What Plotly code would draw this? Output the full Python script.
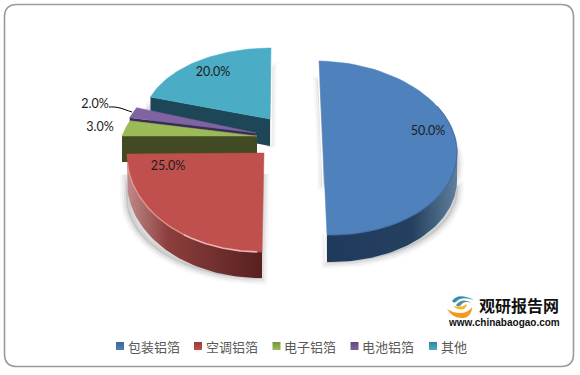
import math
import plotly.graph_objects as go

categories = ["包装铝箔", "空调铝箔", "电子铝箔", "电池铝箔", "其他"]
values = [50.0, 25.0, 3.0, 2.0, 20.0]

# appearance / projection of each exploded slice (pixel-based axes)
APEX = [(323, 148), (264, 153), (257, 136), (256, 133), (270, 119)]
RVEC = [(134, 2), (137, -1), (135, 0), (133, 0), (126, 0)]
UVEC = [(-4, -87), (2, -99), (30, -81), (23, -82), (1, -71)]
DEPTH = [27, 26, 26, 26, 27]
TOP = ["#4f81bd", "#c0504d", "#9bbb59", "#8064a2", "#4bacc6"]
FRONT = ["#1f3a5c", "#5a2423", "#414a23", "#3a2a55", "#1d4656"]
SIDE = [
    [[0, "#203a5e"], [0.65, "#24405f"], [1, "#5f7f9d"]],
    [[0, "#c08a8a"], [0.3, "#8c3f3d"], [1, "#572120"]],
    None, None, None,
]
LABEL_POS = [(428, 132), (168, 167), (100, 128), (95, 105), (213, 73)]
LEG_X = [120, 198, 276.5, 354.5, 433]
LEG_COL = ["#3c6596", "#963c3a", "#76923c", "#5f497a", "#31859c"]
LEG_Y = 346


def pt(i, a, dz=0):
    t = math.radians(a)
    s, c = math.sin(t), math.cos(t)
    return (APEX[i][0] + s * RVEC[i][0] + c * UVEC[i][0],
            APEX[i][1] + s * RVEC[i][1] + c * UVEC[i][1] + dz)


def arc(i, a, b, dz=0, n=60):
    return [pt(i, a + (b - a) * k / n, dz) for k in range(n + 1)]


def poly(pts, **kw):
    xs = [p[0] for p in pts] + [pts[0][0]]
    ys = [p[1] for p in pts] + [pts[0][1]]
    return go.Scatter(x=xs, y=ys, mode="lines", fill="toself", hoverinfo="skip",
                      showlegend=False, **kw)


total = sum(values)
spans, cur = [], 0.0
for v in values:
    spans.append((cur, cur + v / total * 360))
    cur += v / total * 360

fig = go.Figure()

for i in [4, 3, 2, 1, 0]:
    a, b = spans[i]
    outline = [tuple(APEX[i])] + arc(i, a, b)
    lo, hi = max(a, 90), min(b, 270)
    body = list(outline)
    if hi > lo:
        body = body + arc(i, hi, lo, DEPTH[i])
    body = body + [(APEX[i][0], APEX[i][1] + DEPTH[i])]
    # soft shadow
    if i in (0, 1, 4):
        ymin = min(p[1] for p in body)
        ymax = max(p[1] for p in body)
        cx = APEX[i][0]
        sh = [(cx + (p[0] - cx) * 1.01,
               p[1] + 20 * (1 - (p[1] - ymin) / (ymax - ymin)) + 1) for p in body]
        for w, al in [(12, 0.025), (8, 0.04), (4, 0.055)]:
            fig.add_trace(poly(sh, fillcolor=f"rgba(0,0,0,{al})",
                               line=dict(width=w, color=f"rgba(0,0,0,{al})")))
    # thin highlight along straight edges
    if i in (0, 4):
        e0 = pt(i, 0)
        e1 = (APEX[i][0] - UVEC[i][0] * (1 if i == 0 else 0),
              APEX[i][1] - UVEC[i][1] * (1 if i == 0 else 0) + DEPTH[i])
        off = -1.0 if i == 0 else 1.0
        fig.add_trace(go.Scatter(x=[e0[0] + off, e1[0] + off], y=[e0[1], e1[1]],
                                 mode="lines", hoverinfo="skip", showlegend=False,
                                 line=dict(color="white", width=1.2)))
    # radial front wall
    if a > 180:
        p0 = pt(i, a)
        fig.add_trace(poly([p0, tuple(APEX[i]),
                            (APEX[i][0], APEX[i][1] + DEPTH[i]),
                            (p0[0], p0[1] + DEPTH[i])],
                           fillcolor=FRONT[i], line=dict(width=0, color=FRONT[i])))
    # curved wall
    if hi > lo:
        wall = arc(i, lo, hi) + arc(i, hi, lo, DEPTH[i])
        kw = dict(fillcolor=FRONT[i])
        if SIDE[i]:
            kw = dict(fillgradient=dict(type="horizontal", colorscale=SIDE[i]))
        fig.add_trace(poly(wall, line=dict(width=0, color=FRONT[i]), **kw))
    # top face
    fig.add_trace(poly(outline, fillcolor=TOP[i], line=dict(width=0.5, color=TOP[i])))
    # bevel highlight along the rim of the red slice
    if i == 1:
        rim = arc(i, 215, 265)
        fig.add_trace(go.Scatter(x=[p[0] for p in rim], y=[p[1] for p in rim], mode="lines",
                                 hoverinfo="skip", showlegend=False,
                                 line=dict(color="rgba(245,180,178,0.6)", width=1.4)))
        rim = arc(i, 182, 215)
        fig.add_trace(go.Scatter(x=[p[0] for p in rim], y=[p[1] for p in rim], mode="lines",
                                 hoverinfo="skip", showlegend=False,
                                 line=dict(color="rgba(245,190,188,0.9)", width=1.6)))
    if i == 0:
        rim = arc(i, 60, 178)
        fig.add_trace(go.Scatter(x=[p[0] for p in rim], y=[p[1] for p in rim], mode="lines",
                                 hoverinfo="skip", showlegend=False,
                                 line=dict(color="rgba(60,100,150,0.7)", width=1.2)))

# data labels
fig.add_trace(go.Scatter(
    x=[p[0] for p in LABEL_POS], y=[p[1] for p in LABEL_POS],
    text=[f"{v / total * 100:.1f}%" for v in values],
    mode="text", textposition="middle center", hoverinfo="skip", showlegend=False,
    textfont=dict(family="Lato, Carlito, sans-serif", size=12.5, color="#1c1c1c")))

# leader line of the 2.0% label
fig.add_trace(go.Scatter(x=[109, 114, 120, 126, 132], y=[107, 107, 108, 110, 112],
                         mode="lines", hoverinfo="skip", showlegend=False,
                         line=dict(color="black", width=1, shape="spline")))

# legend
for i, c in enumerate(categories):
    fig.add_trace(go.Scatter(
        x=[LEG_X[i]], y=[LEG_Y], mode="markers", name=c, hoverinfo="name", showlegend=False,
        marker=dict(symbol="square", size=8, color=LEG_COL[i],
                    gradient=dict(type="vertical", color=TOP[i]))))
    fig.add_annotation(x=LEG_X[i] + 6.5, y=LEG_Y, text=c, showarrow=False, xanchor="left",
                       yanchor="middle", xref="x", yref="y", borderpad=0,
                       font=dict(family="Noto Sans CJK SC", size=13, color="#595959"))

# watermark text
fig.add_annotation(x=518.5, y=305, text="<b>观研报告网</b>", showarrow=False, xref="x", yref="y",
                   font=dict(family="Noto Sans CJK SC", size=16, color="#111111"))
fig.add_annotation(x=503.5, y=322, text="<b>www.chinabaogao.com</b>", showarrow=False, xref="x", yref="y",
                   font=dict(family="Liberation Sans", size=10, color="#111111"))

shapes = [
    dict(type="path", layer="below", xref="x", yref="y",
         path="M 17,4.5 L 561,4.5 Q 573.5,4.5 573.5,17 L 573.5,354 Q 573.5,366.5 561,366.5 "
              "L 17,366.5 Q 4.5,366.5 4.5,354 L 4.5,17 Q 4.5,4.5 17,4.5 Z",
         line=dict(color="#9a9a9a", width=1.6), fillcolor="white"),
    # logo swirl
    dict(type="path", xref="x", yref="y", line=dict(width=0), fillcolor="#2f8fb5",
         path="M 452,301 Q 458,292 474,300 Q 462,296 457,301 Q 454,304 452,301 Z"),
    dict(type="path", xref="x", yref="y", line=dict(width=0), fillcolor="#5a8f8f",
         path="M 456,305 Q 462,297 472,303 Q 464,300 461,305 Q 458,308 456,305 Z"),
    dict(type="path", xref="x", yref="y", line=dict(width=0), fillcolor="#f39a1e",
         path="M 447,309 Q 453,319 464,318 Q 472,316 472,307 Q 468,313 460,313 Q 453,313 447,309 Z"),
    dict(type="path", xref="x", yref="y", line=dict(width=0), fillcolor="#f7b733",
         path="M 453,306 Q 458,311 464,309 Q 467,307 467,304 Q 462,308 453,306 Z"),
]

fig.update_layout(
    width=580, height=375, margin=dict(l=0, r=0, t=0, b=0),
    autosize=False,
    paper_bgcolor="white", plot_bgcolor="rgba(0,0,0,0)", showlegend=False,
    xaxis=dict(range=[0, 580], visible=False, fixedrange=True),
    yaxis=dict(range=[375, 0], visible=False, fixedrange=True),
    shapes=shapes,
)
fig.write_html("out.html", config={"displayModeBar": False},
               post_script="document.body.style.margin='0';document.body.style.overflow='hidden';")
